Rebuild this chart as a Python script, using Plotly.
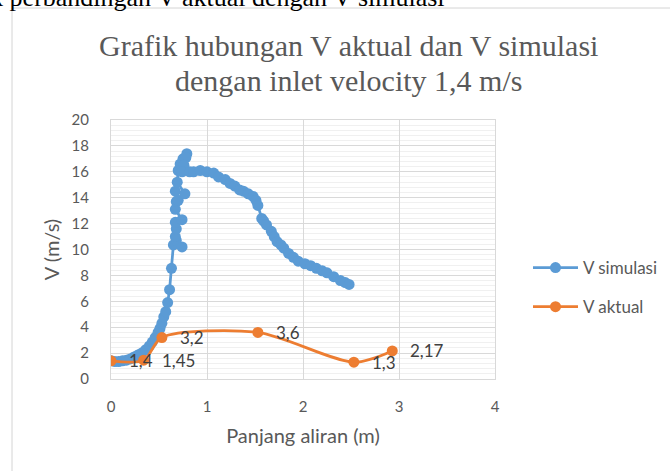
import plotly.graph_objects as go

# V simulasi
sim_x = [0, 0.04, 0.08, 0.12, 0.16, 0.2, 0.24, 0.28, 0.32, 0.36, 0.4, 0.43, 0.46, 0.49, 0.51,
         0.53, 0.55, 0.57, 0.59, 0.61, 0.63, 0.65, 0.68, 0.74, 0.67, 0.68, 0.67, 0.74, 0.67,
         0.68, 0.70, 0.67, 0.77, 0.69, 0.70, 0.72, 0.75, 0.79, 0.78, 0.76, 0.74, 0.82, 0.86,
         0.93, 1.0, 1.07, 1.12, 1.19, 1.24, 1.29, 1.34, 1.38, 1.43, 1.48, 1.51, 1.53, 1.57,
         1.59, 1.62, 1.67, 1.70, 1.73, 1.77, 1.80, 1.85, 1.90, 1.95, 2.02, 2.08, 2.14, 2.20,
         2.25, 2.32, 2.39, 2.44, 2.48]
sim_y = [1.4, 1.35, 1.35, 1.4, 1.45, 1.55, 1.7, 1.85, 2.0, 2.25, 2.55, 2.85, 3.2, 3.6, 3.9,
         4.3, 4.8, 5.2, 5.9, 6.9, 8.55, 10.35, 10.7, 10.2, 11.0, 11.6, 12.1, 12.3, 13.1,
         13.7, 13.8, 14.5, 14.3, 15.2, 16.1, 16.6, 17.0, 17.4, 17.1, 16.5, 16.0, 16.0, 16.0,
         16.1, 16.0, 15.9, 15.6, 15.4, 15.1, 14.9, 14.6, 14.5, 14.3, 14.1, 13.8, 13.4, 12.4,
         12.2, 11.9, 11.4, 11.0, 10.6, 10.35, 10.1, 9.7, 9.4, 9.1, 8.9, 8.75, 8.55, 8.35,
         8.2, 7.9, 7.6, 7.45, 7.3]

# V aktual
akt_x = [0, 0.34, 0.53, 1.53, 2.53, 2.93]
akt_y = [1.4, 1.45, 3.2, 3.6, 1.3, 2.17]
akt_labels = ["1,4", "1,45", "3,2", "3,6", "1,3", "2,17"]

x_ticks = [0, 1, 2, 3, 4]
y_ticks = [0, 2, 4, 6, 8, 10, 12, 14, 16, 18, 20]

title_lines = ["Grafik hubungan V aktual dan V simulasi", "dengan inlet velocity 1,4 m/s"]
caption = "Gambar 4.5 Grafik perbandingan V aktual dengan V simulasi"

BLUE = "#5B9BD5"
ORANGE = "#ED7D31"
GRAY = "#595959"
FONT = "Lato"

# plot-area geometry in pixels (for paper-coordinate helpers)
L, R, T, B = 111, 495, 120, 379


def px(xp):
    return (xp - L) / (R - L)


def py(yp):
    return (B - yp) / (B - T)


fig = go.Figure()
fig.add_trace(go.Scatter(
    x=sim_x, y=sim_y, mode="lines+markers", name="V simulasi",
    legendgroup="a",
    line=dict(color=BLUE, width=2.75),
    marker=dict(color=BLUE, size=11),
))
fig.add_trace(go.Scatter(
    x=akt_x, y=akt_y, mode="lines+markers", name="V aktual",
    legendgroup="b",
    line=dict(color=ORANGE, width=2.75, shape="spline", smoothing=0.8),
    marker=dict(color=ORANGE, size=11),
))

annotations = []
for xv, yv, t in zip(akt_x, akt_y, akt_labels):
    annotations.append(dict(
        x=xv, y=yv, xref="x", yref="y", text=t, showarrow=False,
        xanchor="left", yanchor="middle", xshift=16,
        font=dict(family=FONT, size=17, color="#404040"),
    ))

# title (two lines placed individually)
for line, ypix in zip(title_lines, [46, 80]):
    annotations.append(dict(
        x=px(348), y=py(ypix), xref="paper", yref="paper", text=line,
        showarrow=False, xanchor="center", yanchor="middle",
        font=dict(family="Liberation Serif", size=30, color=GRAY),
    ))

# cut-off caption text above the chart frame
annotations.append(dict(
    x=px(447), y=py(-3), xref="paper", yref="paper",
    text=caption, showarrow=False, xanchor="right", yanchor="middle",
    font=dict(family="Liberation Serif", size=26, color="#000000"),
))

fig.update_layout(
    width=670, height=471,
    margin=dict(l=L, r=670 - R, t=T, b=471 - B, autoexpand=False),
    paper_bgcolor="white", plot_bgcolor="white",
    xaxis=dict(
        range=[0, 4], tickvals=x_ticks, ticktext=[str(v) for v in x_ticks],
        showgrid=True, gridcolor="#D9D9D9", gridwidth=1, zeroline=False,
        showline=True, linecolor="#D9D9D9", mirror=True,
        ticks="", ticklabelstandoff=14,
        tickfont=dict(family=FONT, size=15, color=GRAY),
        title=dict(text="Panjang aliran (m)", font=dict(family=FONT, size=20, color=GRAY),
                   standoff=14),
    ),
    yaxis=dict(
        range=[0, 20], tickvals=y_ticks, ticktext=[str(v) for v in y_ticks],
        showgrid=True, gridcolor="#D9D9D9", gridwidth=1, zeroline=False,
        showline=True, linecolor="#D9D9D9", mirror=True,
        minor=dict(dtick=0.4, showgrid=True, gridcolor="#F0F0F0", gridwidth=1),
        ticks="", ticklabelstandoff=18,
        tickfont=dict(family=FONT, size=15, color=GRAY),
        title=dict(text="V (m/s)", font=dict(family=FONT, size=20, color=GRAY),
                   standoff=6),
    ),
    legend=dict(
        x=px(528), y=py(250), xanchor="left", yanchor="top",
        traceorder="grouped", tracegroupgap=14, itemwidth=45,
        font=dict(family=FONT, size=17, color=GRAY),
        bgcolor="rgba(0,0,0,0)",
    ),
    annotations=annotations,
    shapes=[dict(
        type="rect", xref="paper", yref="paper",
        x0=px(12), x1=px(700), y0=py(500), y1=py(8),
        line=dict(color="#D4D4D4", width=1), fillcolor="rgba(0,0,0,0)",
        layer="above",
    )],
)

fig.write_html("out.html", config={"displayModeBar": False},
               post_script="document.body.style.margin='0';")
